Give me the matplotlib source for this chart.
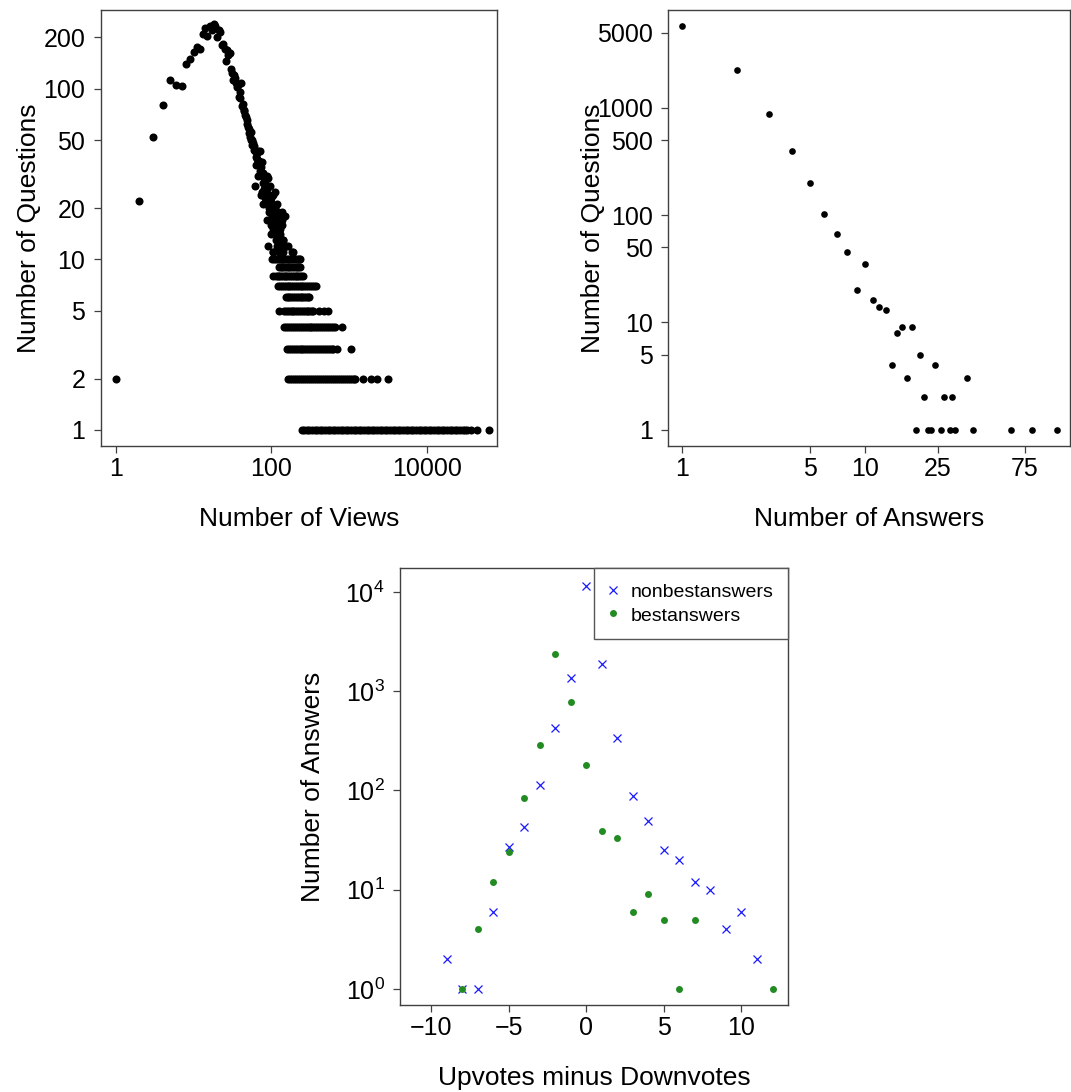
import matplotlib
matplotlib.use("Agg")
import matplotlib.pyplot as plt
from matplotlib.ticker import FixedLocator, NullLocator

plt.rcParams['font.family'] = ['Liberation Sans', 'DejaVu Sans']

# --- views vs questions (count >= 12, read point by point)
views = [1, 2, 3, 4, 5, 6, 7, 8, 9, 10, 11, 12, 13, 14, 15, 16, 17, 18, 19, 20,
         21, 22, 23, 24, 25, 26, 27, 28, 29, 30, 31, 32, 33, 34, 35, 36, 37, 38, 39, 40,
         41, 42, 43, 44, 45, 46, 47, 48, 49, 50, 51, 52, 53, 54, 55, 56, 57, 58, 59, 60,
         61, 62, 63, 64, 65, 66, 67, 68, 69, 70, 71, 72, 73, 74, 75, 76, 77, 78, 79, 80,
         81, 82, 83, 84, 85, 86, 87, 88, 89, 90, 91, 92, 93, 94, 95, 96, 97, 98, 99, 100,
         101, 102, 103, 104, 105, 107, 108, 109, 110, 111, 112, 113, 114, 115, 116, 117,
         118, 119, 120, 121, 122, 123, 124, 125, 127, 128, 129, 131, 132, 133, 134, 136,
         137, 138, 140, 142, 143, 147, 150, 155, 165]
questions = [2, 22, 52, 80, 112, 106, 104, 140, 150, 165, 175, 172, 210, 228, 204, 232, 220, 239, 235, 201,
             222, 215, 180, 184, 172, 145, 168, 158, 163, 130, 124, 113, 120, 116, 108, 102, 106, 90, 96, 88,
             108, 79, 82, 75, 74, 70, 68, 66, 62, 60, 58, 55, 52, 56, 50, 50, 47, 48, 44, 46,
             43, 27, 36, 40, 39, 42, 43, 31, 38, 37, 43, 33, 24, 35, 37, 25, 32, 28, 21, 30,
             26, 23, 29, 27, 24, 22, 31, 26, 17, 12, 30, 20, 19, 24, 22, 27, 20, 16, 23, 14,
             21, 18, 20, 15, 24, 17, 19, 16, 20, 25, 15, 18, 13, 17, 14, 21,
             12, 16, 15, 13, 18, 19, 14, 12, 16, 13, 15, 14, 12, 17, 13, 19,
             16, 17, 13, 12, 13, 12, 18, 12, 12]

# views with only a few questions, one list per question count
views_q11 = [104, 106, 126, 135, 141, 183, 188]
views_q10 = [103, 109, 115, 121, 128, 135, 143, 151, 160, 169, 179, 190, 201, 213, 224, 233]
views_q9 = [126, 132, 139, 146, 154, 162, 171, 180, 190, 200, 211, 222, 233]
views_q8 = [104, 115, 120, 126, 133, 140, 148, 156, 165, 174, 184, 194, 205, 216, 228, 241, 258]
views_q7 = [123, 130, 137, 145, 153, 162, 171, 181, 191, 202, 213, 225, 238, 251, 266, 281,
            297, 314, 332, 351, 380]
views_q6 = [154, 162, 171, 181, 191, 202, 213, 225, 238, 251, 265, 280, 296, 305]
views_q5 = [126, 146, 154, 163, 172, 182, 192, 203, 215, 227, 240, 254, 268, 284, 300, 317,
            335, 347, 410, 475, 530]
views_q4 = [146, 155, 164, 174, 184, 195, 207, 219, 232, 246, 261, 276, 292, 310, 328, 348,
            368, 390, 413, 438, 464, 492, 521, 552, 585, 620, 660, 807]
views_q3 = [158, 167, 177, 188, 199, 211, 224, 237, 251, 266, 282, 299, 317, 336, 356, 377,
            400, 424, 449, 476, 505, 535, 567, 601, 625, 690, 1060]
views_q2 = [165, 175, 186, 197, 209, 222, 235, 250, 265, 281, 298, 316, 335, 356, 377, 400,
            425, 450, 478, 507, 537, 570, 605, 642, 681, 722, 766, 813, 862, 915, 970, 1029,
            1092, 1158, 1200, 1500, 1900, 2300, 3150]
views_q1 = [245, 265, 286, 309, 334, 360, 389, 420, 454, 490, 529, 572, 617, 667, 720, 778,
            840, 907, 980, 1058, 1143, 1234, 1333, 1440, 1555, 1679, 1814, 1959, 2115, 2285,
            2467, 2665, 2878, 3108, 3357, 3625, 3915, 4229, 4567, 4932, 5327, 5753, 6213,
            6710, 7247, 7827, 8453, 9129, 9860, 10648, 11500, 12420, 13414, 14487, 15646,
            16897, 18249, 19709, 21286, 22988, 24828, 26814, 28959, 31000, 33000, 37400,
            43900, 63000]
few_rows = {11: views_q11, 10: views_q10, 9: views_q9, 8: views_q8, 7: views_q7, 6: views_q6,
            5: views_q5, 4: views_q4, 3: views_q3, 2: views_q2, 1: views_q1}

# --- answers per question
answers = [1, 2, 3, 4, 5, 6, 7, 8, 9, 10, 11, 12, 13, 14, 15, 16, 17, 18, 19, 20,
           21, 22, 23, 24, 26, 27, 29, 30, 31, 36, 39, 63, 82, 112]
questions_by_answers = [5780, 2235, 875, 393, 200, 102, 66, 45, 20, 35, 16, 14, 13, 4, 8, 9, 3, 9, 1, 5,
                        2, 1, 1, 4, 1, 2, 1, 2, 1, 3, 1, 1, 1, 1]

# --- answer scores
scores_nonbest = [-9, -8, -7, -6, -5, -4, -3, -2, -1, 0, 1, 2, 3, 4, 5, 6, 7, 8, 9, 10, 11]
count_nonbest = [2, 1, 1, 6, 27, 43, 113, 424, 1350, 11580, 1896, 336, 88, 49, 25, 20, 12, 10, 4, 6, 2]
scores_best = [-8, -7, -6, -5, -4, -3, -2, -1, 0, 1, 2, 3, 4, 5, 6, 7, 12]
count_best = [1, 4, 12, 24, 84, 285, 2373, 779, 181, 39, 33, 6, 9, 5, 1, 5, 1]

FS = 18
LFS = 19
spine_col = '#404040'


def style(ax):
    for s in ax.spines.values():
        s.set_color(spine_col)
        s.set_linewidth(1.0)
    ax.tick_params(direction='out', length=5, width=0.9, labelsize=FS,
                   color=spine_col)
    ax.tick_params(axis='y', pad=6)
    ax.tick_params(axis='x', pad=3)
    ax.tick_params(which='minor', length=0)


fig = plt.figure(figsize=(10.71, 10.92), dpi=100)

# top left
ax1 = fig.add_axes([0.094, 0.5916, 0.370, 0.3993])
ax1.set_xscale('log')
ax1.set_yscale('log')
ax1.plot(views, questions, 'o', color='black', ms=5.8, mew=0)
for q, vs in few_rows.items():
    ax1.plot(vs, [q] * len(vs), 'o', color='black', ms=5.8, mew=0)
ax1.set_xlim(0.635, 80000)
ax1.set_ylim(0.806, 290)
ax1.xaxis.set_major_locator(FixedLocator([1, 100, 10000]))
ax1.set_xticklabels(['1', '100', '10000'])
ax1.yaxis.set_major_locator(FixedLocator([1, 2, 5, 10, 20, 50, 100, 200]))
ax1.set_yticklabels(['1', '2', '5', '10', '20', '50', '100', '200'])
ax1.xaxis.set_minor_locator(NullLocator())
ax1.yaxis.set_minor_locator(NullLocator())
style(ax1)
ax1.set_xlabel('Number of Views', fontsize=LFS)
ax1.set_ylabel('Number of Questions', fontsize=LFS)
ax1.xaxis.set_label_coords(0.5, -0.14)
ax1.yaxis.set_label_coords(-0.151, 0.5)

# top right
ax2 = fig.add_axes([0.6237, 0.5916, 0.3754, 0.3993])
ax2.set_xscale('log')
ax2.set_yscale('log')
ax2.plot(answers, questions_by_answers, 'o', color='black', ms=4.8, mew=0)
ax2.set_xlim(0.839, 132)
ax2.set_ylim(0.705, 8150)
ax2.xaxis.set_major_locator(FixedLocator([1, 5, 10, 25, 75]))
ax2.set_xticklabels(['1', '5', '10', '25', '75'])
ax2.yaxis.set_major_locator(FixedLocator([1, 5, 10, 50, 100, 500, 1000, 5000]))
ax2.set_yticklabels(['1', '5', '10', '50', '100', '500', '1000', '5000'])
ax2.xaxis.set_minor_locator(NullLocator())
ax2.yaxis.set_minor_locator(NullLocator())
style(ax2)
ax2.set_xlabel('Number of Answers', fontsize=LFS)
ax2.set_ylabel('Number of Questions', fontsize=LFS)
ax2.xaxis.set_label_coords(0.5, -0.14)
ax2.yaxis.set_label_coords(-0.157, 0.5)

# bottom
ax3 = fig.add_axes([0.3735, 0.0797, 0.3623, 0.4002])
ax3.set_yscale('log')
ax3.plot(scores_nonbest, count_nonbest, 'x', color='#1a1aff', ms=5.5, mew=0.9,
         label='nonbestanswers')
ax3.plot(scores_best, count_best, 'o', color='#228b22', ms=5, mew=0,
         label='bestanswers')
ax3.set_xlim(-12, 13)
ax3.set_ylim(0.69, 17460)
ax3.set_xticks([-10, -5, 0, 5, 10])
ax3.set_yticks([1, 10, 100, 1000, 10000])
ax3.yaxis.set_minor_locator(NullLocator())
style(ax3)
ax3.set_xlabel('Upvotes minus Downvotes', fontsize=LFS)
ax3.set_ylabel('Number of Answers', fontsize=LFS)
ax3.xaxis.set_label_coords(0.5, -0.14)
ax3.yaxis.set_label_coords(-0.193, 0.5)
leg = ax3.legend(loc='upper right', fontsize=14, fancybox=False, framealpha=1,
                 edgecolor='#555555', borderaxespad=0, handletextpad=0.7,
                 handlelength=0.5, borderpad=0.72, labelspacing=0.2,
                 handleheight=1.0)
leg.get_frame().set_linewidth(1.0)

fig.savefig('out.png', dpi=100)
